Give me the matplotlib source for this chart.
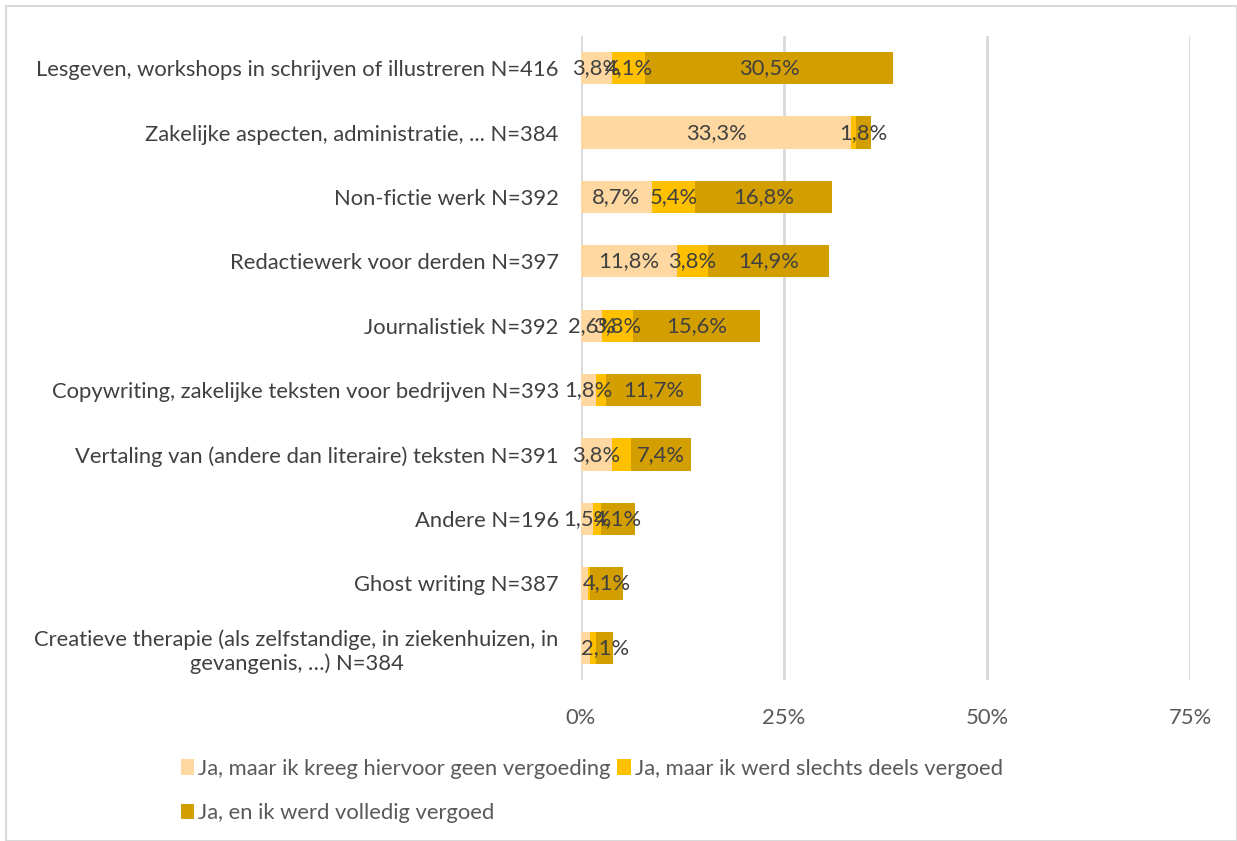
import matplotlib
matplotlib.use('Agg')
import matplotlib.pyplot as plt
import numpy as np

plt.rcParams['font.family'] = ['Lato', 'DejaVu Sans']

categorieen = [
    'Lesgeven, workshops in schrijven of illustreren N=416',
    'Zakelijke aspecten, administratie, ... N=384',
    'Non-fictie werk N=392',
    'Redactiewerk voor derden N=397',
    'Journalistiek N=392',
    'Copywriting, zakelijke teksten voor bedrijven N=393',
    'Vertaling van (andere dan literaire) teksten N=391',
    'Andere N=196',
    'Ghost writing N=387',
    'Creatieve therapie (als zelfstandige, in ziekenhuizen, in\ngevangenis, …) N=384',
]

reeksen = [
    'Ja, maar ik kreeg hiervoor geen vergoeding',
    'Ja, maar ik werd slechts deels vergoed',
    'Ja, en ik werd volledig vergoed',
]

geen_vergoeding = [3.8, 33.3, 8.7, 11.8, 2.6, 1.8, 3.8, 1.5, 0.9, 1.1]
deels_vergoed = [4.1, 0.6, 5.4, 3.8, 3.8, 1.3, 2.3, 1.0, 0.2, 0.8]
volledig_vergoed = [30.5, 1.8, 16.8, 14.9, 15.6, 11.7, 7.4, 4.1, 4.1, 2.1]

# welke labels Excel toont (True = tonen)
toon_geen = [True, True, True, True, True, True, True, True, False, False]
toon_deels = [True, False, True, True, True, False, False, False, False, False]
toon_volledig = [True, True, True, True, True, True, True, True, True, True]

kleuren = ['#FED8A0', '#FFC000', '#D29E00']
tekstkleur = '#404040'
fs = 15.8

fig = plt.figure(figsize=(12.37, 8.41), dpi=100)
ax = fig.add_axes([581 / 1237, 1 - 680 / 841, (1190 - 581) / 1237, 644 / 841])

y = np.arange(len(categorieen))
links = np.zeros(len(categorieen))
data = [geen_vergoeding, deels_vergoed, volledig_vergoed]
tonen = [toon_geen, toon_deels, toon_volledig]

balken = []
for waarden, kleur, naam, toon in zip(data, kleuren, reeksen, tonen):
    w = np.array(waarden) / 100
    b = ax.barh(y, w, left=links, height=0.5, color=kleur, label=naam, zorder=3)
    balken.append(b)
    for i in range(len(w)):
        if toon[i]:
            ax.text(links[i] + w[i] / 2, y[i], f'{waarden[i]:.1f}%'.replace('.', ','),
                    ha='center', va='center', fontsize=fs, color=tekstkleur, zorder=4)
    links = links + w

ax.set_ylim(len(categorieen) - 0.5, -0.5)
ax.set_xlim(0, 0.75)
ax.set_xticks([0, 0.25, 0.5, 0.75])
ax.set_xticklabels(['0%', '25%', '50%', '75%'])
ax.set_yticks(y)
ax.set_yticklabels(categorieen, multialignment='center')
ax.tick_params(axis='both', length=0, labelsize=fs, colors='#595959')
ax.tick_params(axis='y', pad=16, labelcolor=tekstkleur)
ax.tick_params(axis='x', pad=20)
for s in ax.spines.values():
    s.set_visible(False)
ax.xaxis.grid(True, color='#D9D9D9', linewidth=2, zorder=0)
ax.set_axisbelow(True)

# legenda rij voor rij zoals Excel: volgorde aanpassen voor ncol=2
volgorde = [0, 2, 1]
fig.legend([balken[i] for i in volgorde], [reeksen[i] for i in volgorde],
           loc='upper left', bbox_to_anchor=(172 / 1237, 1 - 750 / 841), ncol=2,
           frameon=False, fontsize=fs, handlelength=0.6, handleheight=0.7,
           handletextpad=0.2, columnspacing=0.3, labelspacing=1.1,
           labelcolor='#595959', borderaxespad=0)

fig.add_artist(plt.Rectangle((6 / 1237, 0), 1 - 6 / 1237, 1 - 6 / 841, transform=fig.transFigure,
                             fill=False, edgecolor='#D9D9D9', linewidth=1.5))

fig.savefig('out.png', dpi=100)
